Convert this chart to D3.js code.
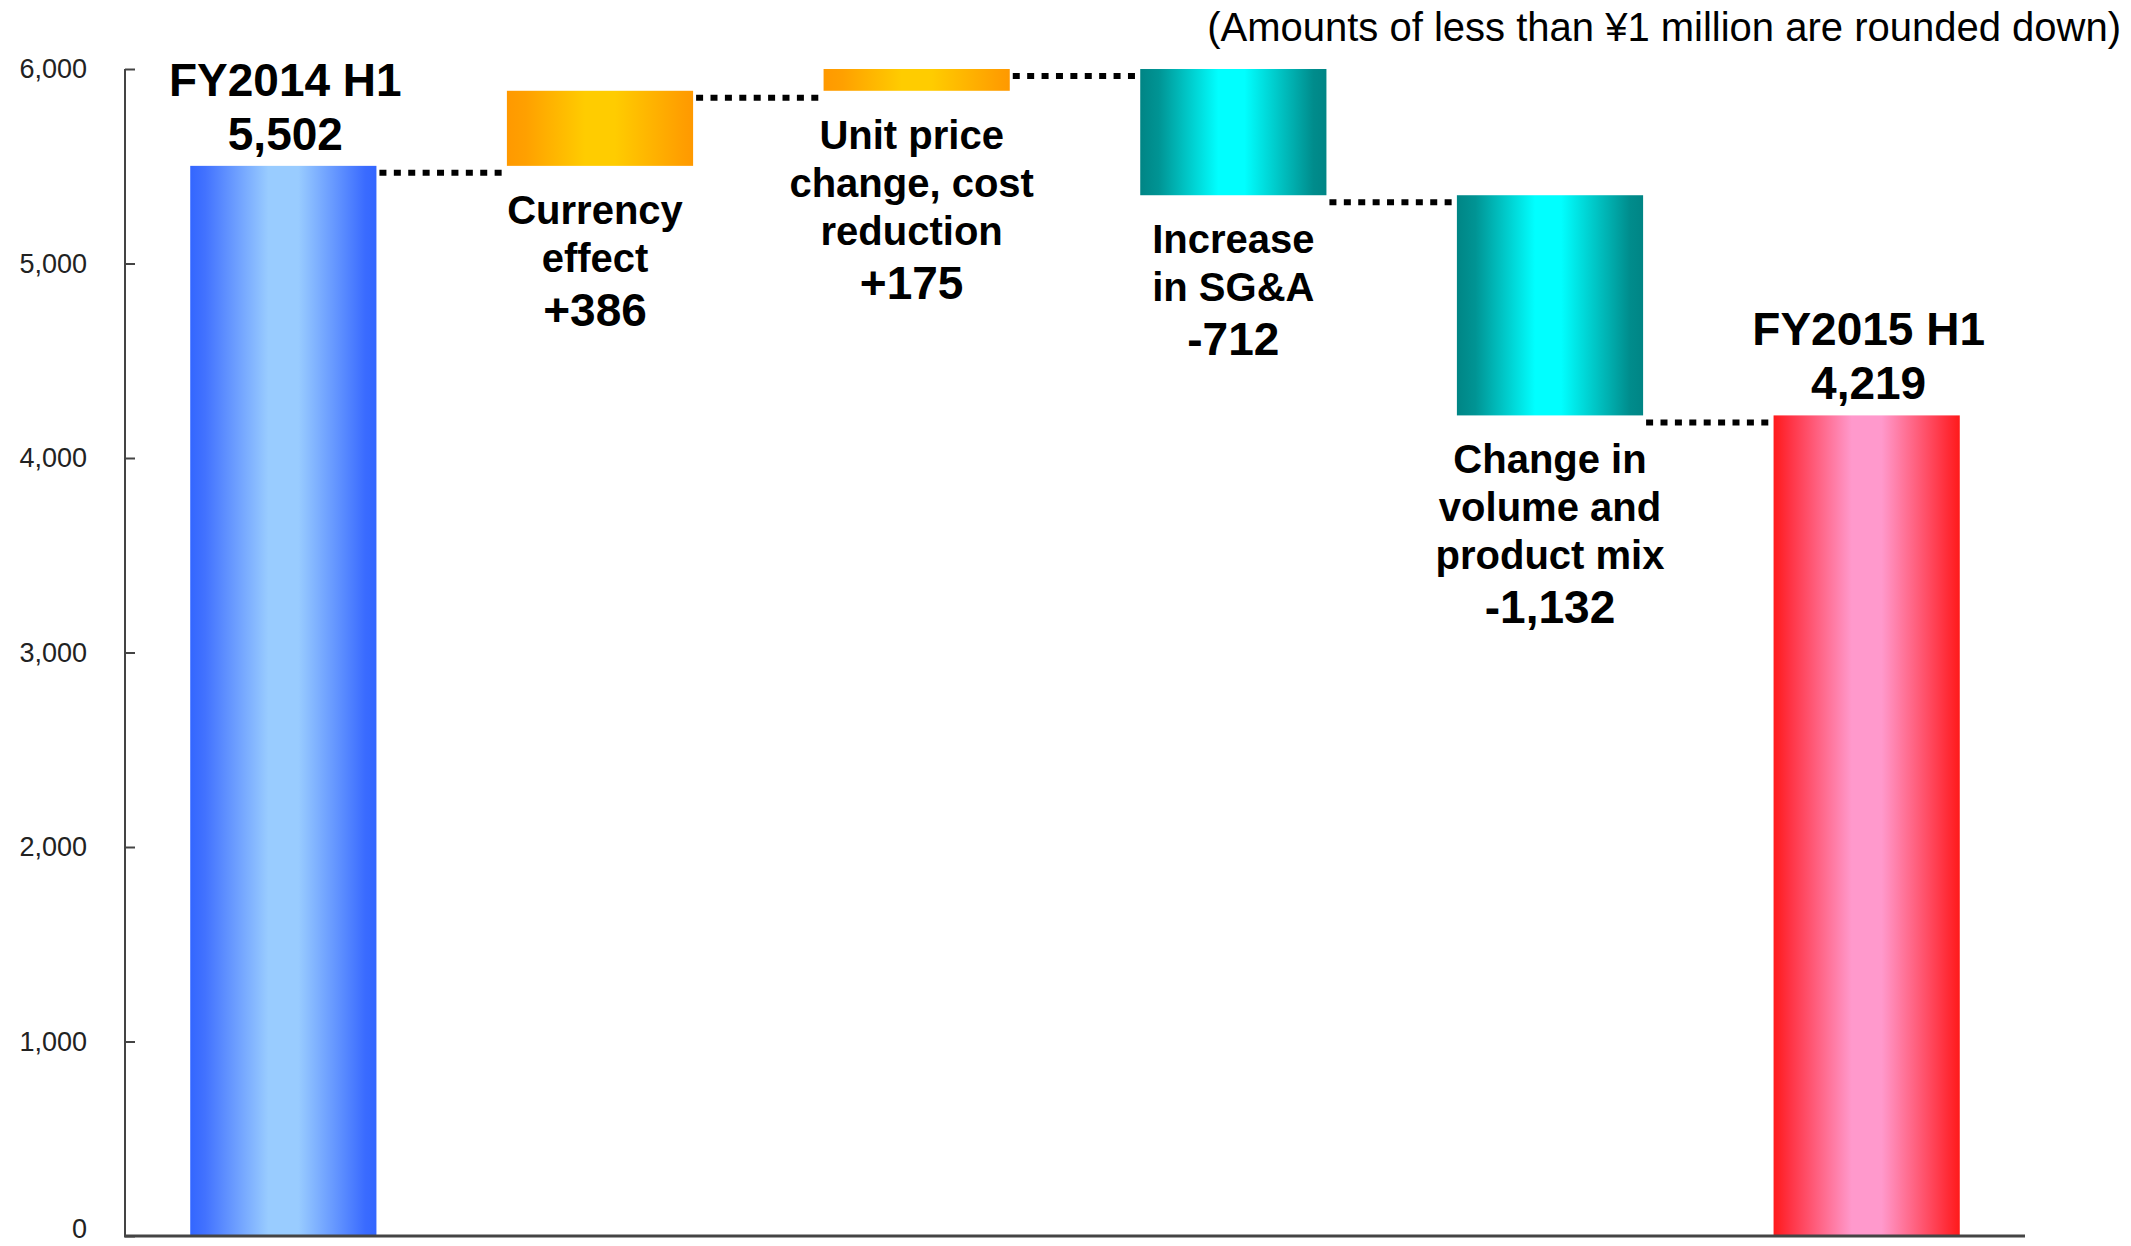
<!DOCTYPE html>
<html>
<head>
<meta charset="utf-8">
<script src="https://cdn.jsdelivr.net/npm/d3@7"></script>
<style>
  body { margin: 0; background: #fff; }
  text { font-family: "Liberation Sans", Arial, sans-serif; fill: #000; }
  .lbl { font-weight: bold; }
</style>
</head>
<body>
<svg></svg>
<script>
width = 2131;
height = 1246;

// chart data
const categories = ["FY2014 H1", "Currency effect", "Unit price change, cost reduction",
  "Increase in SG&A", "Change in volume and product mix", "FY2015 H1"];
const kinds = ["total", "delta", "delta", "delta", "delta", "total"];
const amounts = [5502, 386, 175, -712, -1132, 4219];
const nameLines = [
  ["FY2014 H1"],
  ["Currency", "effect"],
  ["Unit price", "change, cost", "reduction"],
  ["Increase", "in SG&A"],
  ["Change in", "volume and", "product mix"],
  ["FY2015 H1"]
];
const valueLabels = ["5,502", "+386", "+175", "-712", "-1,132", "4,219"];
const yTicks = [0, 1000, 2000, 3000, 4000, 5000, 6000];
const note = "(Amounts of less than \u00a51 million are rounded down)";

const svg = d3.select("svg")
  .attr("width", width)
  .attr("height", height);

// waterfall running totals
let run = 0;
const steps = amounts.map((v, i) => {
  let start, end;
  if (kinds[i] == "total") { start = 0; end = v; run = v; }
  else { start = run; end = run + v; run = end; }
  return { i: i, start: start, end: end, lo: Math.min(start, end), hi: Math.max(start, end), level: kinds[i] == "total" ? v : end };
});

const x = d3.scaleBand()
  .domain(d3.range(categories.length))
  .range([125, 2025])
  .paddingInner(0.412)
  .paddingOuter(0.206);

const y = d3.scaleLinear()
  .domain([0, 6000])
  .range([1236, 69])
  .clamp(true);

// gradients
const grads = {
  blue: [["0%", "#3366ff"], ["8%", "#4272ff"], ["42%", "#99ccff"], ["58%", "#99ccff"], ["94%", "#3a6bff"], ["100%", "#3366ff"]],
  orange: [["0%", "#ff9900"], ["10%", "#ffa000"], ["42%", "#ffcc00"], ["58%", "#ffcc00"], ["94%", "#ff9f00"], ["100%", "#ff9900"]],
  teal: [["0%", "#008585"], ["10%", "#009494"], ["42%", "#00ffff"], ["56%", "#00ffff"], ["93%", "#008c8c"], ["100%", "#008585"]],
  red: [["0%", "#ff1a1a"], ["8%", "#ff3040"], ["42%", "#ff99cc"], ["58%", "#ff99cc"], ["94%", "#ff2a35"], ["100%", "#ff1a1a"]]
};
const defs = svg.append("defs");
Object.keys(grads).forEach(k => {
  const g = defs.append("linearGradient").attr("id", "g-" + k)
    .attr("x1", "0%").attr("x2", "100%").attr("y1", "0%").attr("y2", "0%");
  grads[k].forEach(s => g.append("stop").attr("offset", s[0]).attr("stop-color", s[1]));
});
const fillFor = i => i == 0 ? "blue" : i == 5 ? "red" : amounts[i] > 0 ? "orange" : "teal";

// bars
svg.selectAll(".bar")
  .data(steps)
  .enter().append("rect")
  .attr("class", "bar")
  .attr("x", d => x(d.i))
  .attr("width", x.bandwidth())
  .attr("y", d => y(d.hi))
  .attr("height", d => y(d.lo) - y(d.hi))
  .style("fill", d => "url(#g-" + fillFor(d.i) + ")");

// dotted connectors
svg.selectAll(".conn")
  .data(steps.slice(0, steps.length - 1))
  .enter().append("line")
  .attr("class", "conn")
  .attr("x1", d => x(d.i) + x.bandwidth() + 3)
  .attr("x2", d => x(d.i + 1) - 1)
  .attr("y1", d => y(d.level) + 7)
  .attr("y2", d => y(d.level) + 7)
  .attr("stroke", "#000")
  .attr("stroke-width", 6)
  .attr("stroke-dasharray", "7,7.4");

// axes
const yAxis = d3.axisRight(y).tickValues(yTicks).tickSize(10).tickFormat("");
svg.append("g")
  .attr("transform", "translate(125,0)")
  .call(yAxis)
  .call(g => g.select(".domain").attr("d", "M0,69V1236"))
  .selectAll("line, path").attr("stroke", "#444").attr("stroke-width", 2);

svg.selectAll(".ytick")
  .data(yTicks)
  .enter().append("text")
  .attr("class", "ytick")
  .attr("x", 87)
  .attr("y", d => Math.min(y(d) + 9, 1238))
  .attr("text-anchor", "end")
  .style("font-size", "27px")
  .style("fill", "#222")
  .text(d => d3.format(",")(d));

svg.append("line")
  .attr("x1", 124).attr("x2", 2025)
  .attr("y1", 1236).attr("y2", 1236)
  .attr("stroke", "#444").attr("stroke-width", 3);

// labels
steps.forEach(d => {
  const cx = x(d.i) + x.bandwidth() / 2;
  const lines = nameLines[d.i];
  if (kinds[d.i] == "total") {
    const top = y(d.hi);
    svg.append("text").attr("class", "lbl")
      .attr("x", cx + 2).attr("y", top - 70)
      .attr("text-anchor", "middle").style("font-size", "46px")
      .text(lines[0]);
    svg.append("text").attr("class", "lbl")
      .attr("x", cx + 2).attr("y", top - 16)
      .attr("text-anchor", "middle").style("font-size", "46px")
      .text(valueLabels[d.i]);
  } else {
    const base = y(d.lo) + 58;
    const shift = d.i < 3 ? -5 : 0;
    lines.forEach((t, j) => {
      svg.append("text").attr("class", "lbl")
        .attr("x", cx + shift).attr("y", base + j * 48)
        .attr("text-anchor", "middle").style("font-size", "40px")
        .text(t);
    });
    svg.append("text").attr("class", "lbl")
      .attr("x", cx + shift).attr("y", base + (lines.length - 1) * 48 + 54)
      .attr("text-anchor", "middle").style("font-size", "46px")
      .text(valueLabels[d.i]);
  }
});

// footnote
svg.append("text")
  .attr("x", 2121)
  .attr("y", 41)
  .attr("text-anchor", "end")
  .style("font-size", "40px")
  .text(note);
</script>
</body>
</html>
